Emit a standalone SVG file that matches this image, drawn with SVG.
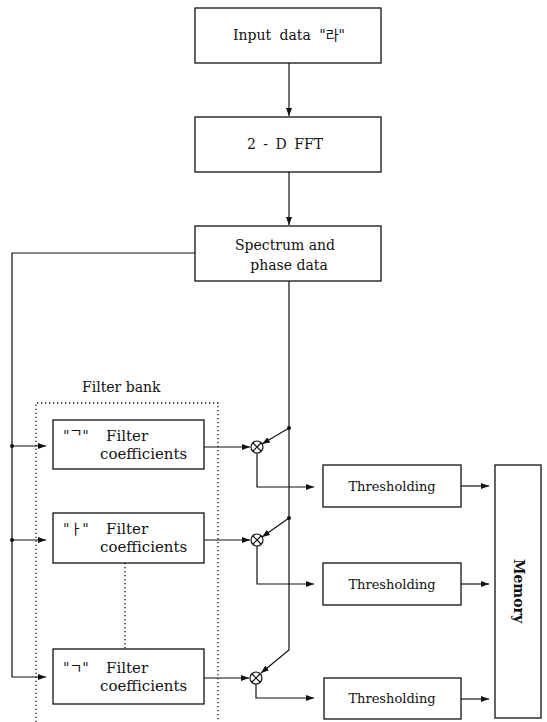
<svg xmlns="http://www.w3.org/2000/svg" width="547" height="722" viewBox="0 0 547 722">
<style>
.box{fill:#fff;stroke:#111;stroke-width:1.3}
.ln{fill:none;stroke:#111;stroke-width:1.2}
.dot{fill:none;stroke:#111;stroke-width:1.3;stroke-dasharray:1.3 2.7}
text{font-family:"DejaVu Serif","Noto Sans CJK KR",serif;font-size:14px;fill:#111}
.c{text-anchor:middle}
.th{font-size:13px}
.f{font-size:15px}
</style>
<defs>
<marker id="ah" viewBox="0 0 8 6" refX="8" refY="3" markerWidth="8" markerHeight="6" markerUnits="userSpaceOnUse" orient="auto">
<path d="M0,0 L8,3 L0,6 z" fill="#111"/>
</marker>
</defs>
<rect width="547" height="722" fill="#fff"/>

<g id="input">
<rect class="box" x="195" y="8" width="186" height="55"/>
<text class="c" x="289" y="40" word-spacing="4">Input data "라"</text>
</g>
<g id="fft">
<rect class="box" x="195" y="117" width="186" height="55"/>
<text class="c" x="285" y="149" word-spacing="3">2 - D FFT</text>
</g>
<g id="spectrum">
<rect class="box" x="195" y="226" width="186" height="55"/>
<text class="c" x="285" y="250">Spectrum and</text>
<text class="c" x="289" y="270">phase data</text>
</g>

<g id="filterbank">
<text x="82" y="392">Filter bank</text>
<path class="dot" d="M36,722 V403 H218 V722"/>
<path class="dot" d="M125,563 V649"/>
</g>

<g id="filter1">
<rect class="box" x="53" y="420" width="151" height="49"/>
<text x="63" y="441">"ᄀ" <tspan class="f" x="106">Filter</tspan></text>
<text class="f" x="100" y="459">coefficients</text>
</g>
<g id="filter2">
<rect class="box" x="53" y="513" width="151" height="50"/>
<text x="63" y="534">"ㅏ" <tspan class="f" x="106">Filter</tspan></text>
<text class="f" x="100" y="552">coefficients</text>
</g>
<g id="filter3">
<rect class="box" x="53" y="649" width="151" height="55"/>
<text x="63" y="673">"ㄱ" <tspan class="f" x="106">Filter</tspan></text>
<text class="f" x="100" y="691">coefficients</text>
</g>

<g id="mult1">
<circle class="ln" cx="257" cy="447" r="6"/>
<path class="ln" d="M253,443 L261,451 M261,443 L253,451"/>
</g>
<g id="mult2">
<circle class="ln" cx="257" cy="540" r="6"/>
<path class="ln" d="M253,536 L261,544 M261,536 L253,544"/>
</g>
<g id="mult3">
<circle class="ln" cx="256" cy="678" r="6"/>
<path class="ln" d="M252,674 L260,682 M260,674 L252,682"/>
</g>

<g id="thresh1">
<rect class="box" x="323" y="465" width="138" height="42"/>
<text class="c th" x="392" y="491">Thresholding</text>
</g>
<g id="thresh2">
<rect class="box" x="323" y="563" width="138" height="42"/>
<text class="c th" x="392" y="589">Thresholding</text>
</g>
<g id="thresh3">
<rect class="box" x="324" y="678" width="137" height="41"/>
<text class="c th" x="392" y="703">Thresholding</text>
</g>

<g id="memory">
<rect class="box" x="495" y="465" width="46" height="253"/>
<text class="c" x="519" y="591" font-size="15" font-weight="600" transform="rotate(90 519 591)" dy="5">Memory</text>
</g>

<g id="connectors">
<path class="ln" d="M289,63 V116" marker-end="url(#ah)"/>
<path class="ln" d="M289,172 V225" marker-end="url(#ah)"/>
<path class="ln" d="M195,253 H12 V677 H46" marker-end="url(#ah)"/>
<path class="ln" d="M12,446 H46" marker-end="url(#ah)"/>
<path class="ln" d="M12,540 H46" marker-end="url(#ah)"/>
<circle cx="12" cy="446" r="2" fill="#111"/>
<circle cx="12" cy="540" r="2" fill="#111"/>

<path class="ln" d="M204,447 H250" marker-end="url(#ah)"/>
<path class="ln" d="M204,540 H250" marker-end="url(#ah)"/>
<path class="ln" d="M204,678 H249" marker-end="url(#ah)"/>

<path class="ln" d="M289,281 V650 L261,673" marker-end="url(#ah)"/>
<circle cx="289" cy="428" r="2" fill="#111"/>
<path class="ln" d="M289,428 L262,444" marker-end="url(#ah)"/>
<circle cx="289" cy="518" r="2" fill="#111"/>
<path class="ln" d="M289,518 L262,537" marker-end="url(#ah)"/>

<path class="ln" d="M257,453 V487 H314" marker-end="url(#ah)"/>
<path class="ln" d="M257,546 V584 H314" marker-end="url(#ah)"/>
<path class="ln" d="M256,684 V698 H314" marker-end="url(#ah)"/>

<path class="ln" d="M461,486 H489" marker-end="url(#ah)"/>
<path class="ln" d="M461,584 H489" marker-end="url(#ah)"/>
<path class="ln" d="M461,699 H489" marker-end="url(#ah)"/>
</g>
</svg>
